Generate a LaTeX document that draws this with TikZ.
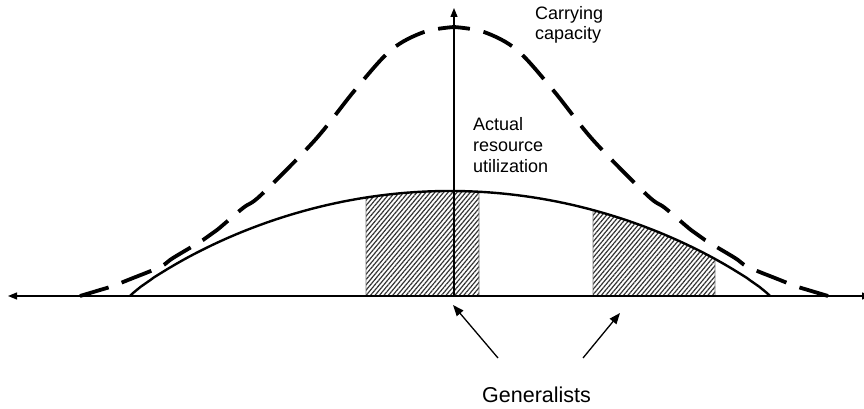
\documentclass[tikz,border=0pt]{standalone}
\usepackage{fontspec}
\setmainfont{Liberation Sans}
\usetikzlibrary{arrows.meta,patterns.meta}
\tikzset{
  axis/.style={line width=1.2pt,-{Triangle[length=9pt,width=7pt]}},
  pointer/.style={line width=1.3pt,-{Triangle[length=11pt,width=8.5pt]}},
  capacity/.style={line width=3.8pt,dash pattern=on 32pt off 13.9pt,dash phase=16pt},
  usage/.style={line width=2.4pt},
  hatch/.style={pattern={Lines[angle=50,distance=3.4pt,line width=1.2pt]},pattern color=black!80,draw=black!55,line width=0.6pt},
  lbl/.style={font=\fontsize{18}{20.8}\selectfont,align=left,inner sep=0pt,anchor=base west},
  biglbl/.style={font=\fontsize{21.5}{24}\selectfont,inner sep=0pt,anchor=base west}
}
\begin{document}
\begin{tikzpicture}[x=1pt,y=-1pt]
\useasboundingbox (0,0) rectangle (864,409);
% hatched regions
\fill[hatch] (366,296) -- plot[domain=366:479,samples=30] ({\x},{296-105*(max(1-((\x-450)/320)^2,0.000001))^0.9}) -- (479,296) -- cycle;
\fill[hatch] (593,296) -- plot[domain=593:715,samples=30] ({\x},{296-105*(max(1-((\x-450)/320)^2,0.000001))^0.9}) -- (715,296) -- cycle;
% axes
\coordinate (O) at (454,296);
\coordinate (xl) at (8,296);
\coordinate (xr) at (871,296);
\coordinate (yt) at (454,8);
\draw[axis] (O) -- (xl);
\draw[axis] (O) -- (xr);
\draw[axis] (O) -- (yt);
% carrying capacity (dashed)
\draw[capacity] plot[smooth,tension=0.55] coordinates {(454,27) (424,32) (391,50) (355,90) (315,140) (261,195) (243,208) (217,230) (203,240) (173,258) (160,267) (128,280) (113,286) (100,290) (80,296)};
\draw[capacity] plot[smooth,tension=0.55] coordinates {(454,27) (484,32) (517,50) (553,90) (593,140) (647,195) (665,208) (691,230) (705,240) (735,258) (748,267) (780,280) (795,286) (808,290) (828,296)};
% actual resource utilization (solid)
\draw[usage] (130,296) -- plot[domain=131:769,samples=200] ({\x},{296-105*(max(1-((\x-450)/320)^2,0.000001))^0.9}) -- (770,296);
% labels
\node[lbl] (cap) at (535,40) {Carrying\\capacity};
\node[lbl] (act) at (473,172) {Actual\\resource\\utilization};
\node[biglbl] (gen) at (482,402) {Generalists};
% pointers
\coordinate (p1s) at (498,358);
\coordinate (p1e) at (453,305);
\coordinate (p2s) at (583,358);
\coordinate (p2e) at (620,313);
\draw[pointer] (p1s) -- (p1e);
\draw[pointer] (p2s) -- (p2e);
\end{tikzpicture}
\end{document}
